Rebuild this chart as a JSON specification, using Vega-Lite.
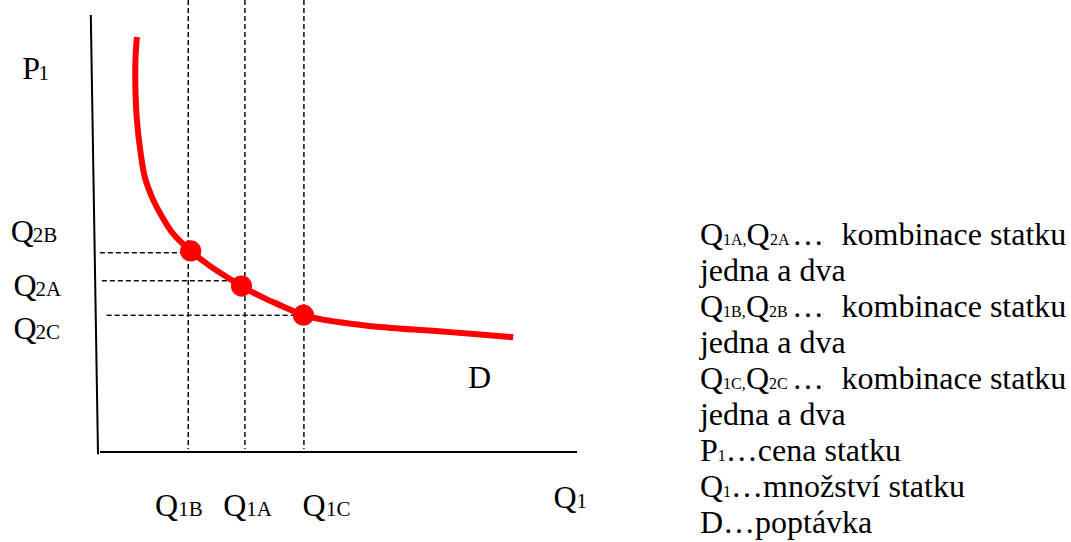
{
  "$schema": "https://vega.github.io/schema/vega-lite/v6.json",
  "width": 480,
  "height": 440,
  "autosize": {"type": "none"},
  "padding": {"left": 98, "top": 12, "right": 493, "bottom": 90},
  "background": "white",
  "config": {"view": {"stroke": null}},
  "datasets": {
    "axes": [
      {"q": -0.15, "p": 9.93, "q2": 0, "p2": -0.05},
      {"q": 0.04, "p": 0, "q2": 9.98, "p2": 0}
    ],
    "guides": [
      {"q": 1.88, "p": 10.27, "q2": 1.88, "p2": 0.07},
      {"q": 3.06, "p": 10.27, "q2": 3.06, "p2": 0.07},
      {"q": 4.29, "p": 10.27, "q2": 4.29, "p2": 0.07},
      {"q": 0.04, "p": 4.53, "q2": 1.92, "p2": 4.53},
      {"q": 0.08, "p": 3.89, "q2": 3.06, "p2": 3.89},
      {"q": 0.18, "p": 3.11, "q2": 4.29, "p2": 3.11}
    ],
    "curve": [
      {"i": 1, "q": 0.81, "p": 9.43},
      {"i": 2, "q": 0.78, "p": 8.91},
      {"i": 3, "q": 0.78, "p": 8.23},
      {"i": 4, "q": 0.81, "p": 7.55},
      {"i": 5, "q": 0.88, "p": 6.86},
      {"i": 6, "q": 0.98, "p": 6.23},
      {"i": 7, "q": 1.15, "p": 5.73},
      {"i": 8, "q": 1.35, "p": 5.32},
      {"i": 9, "q": 1.55, "p": 4.98},
      {"i": 10, "q": 1.93, "p": 4.57},
      {"i": 11, "q": 2.33, "p": 4.23},
      {"i": 12, "q": 2.65, "p": 4.0},
      {"i": 13, "q": 2.99, "p": 3.77},
      {"i": 14, "q": 3.42, "p": 3.52},
      {"i": 15, "q": 3.83, "p": 3.32},
      {"i": 16, "q": 4.28, "p": 3.11},
      {"i": 17, "q": 4.63, "p": 3.02},
      {"i": 18, "q": 5.04, "p": 2.95},
      {"i": 19, "q": 5.88, "p": 2.84},
      {"i": 20, "q": 7.27, "p": 2.73},
      {"i": 21, "q": 8.65, "p": 2.61}
    ],
    "points": [
      {"name": "B", "q": 1.93, "p": 4.57},
      {"name": "A", "q": 2.99, "p": 3.77},
      {"name": "C", "q": 4.28, "p": 3.11}
    ],
    "big": [
      {"t": "Q", "q": -1.82, "p": 4.77},
      {"t": "Q", "q": -1.76, "p": 3.55},
      {"t": "Q", "q": -1.76, "p": 2.57},
      {"t": "Q", "q": 1.19, "p": -1.45},
      {"t": "Q", "q": 2.61, "p": -1.45},
      {"t": "Q", "q": 4.26, "p": -1.45},
      {"t": "Q", "q": 9.49, "p": -1.28},
      {"t": "D", "q": 7.71, "p": 1.45},
      {"t": "P", "q": -1.58, "p": 8.48},
      {"t": "Q", "q": 12.54, "p": 4.70},
      {"t": "Q", "q": 13.51, "p": 4.70},
      {"t": "…", "q": 14.46, "p": 4.70},
      {"t": "kombinace statku", "q": 15.49, "p": 4.70},
      {"t": "jedna a dva", "q": 12.54, "p": 3.89},
      {"t": "Q", "q": 12.54, "p": 3.07},
      {"t": "Q", "q": 13.50, "p": 3.07},
      {"t": "…", "q": 14.46, "p": 3.07},
      {"t": "kombinace statku", "q": 15.49, "p": 3.07},
      {"t": "jedna a dva", "q": 12.54, "p": 2.25},
      {"t": "Q", "q": 12.54, "p": 1.43},
      {"t": "Q", "q": 13.50, "p": 1.43},
      {"t": "…", "q": 14.46, "p": 1.43},
      {"t": "kombinace statku", "q": 15.49, "p": 1.43},
      {"t": "jedna a dva", "q": 12.54, "p": 0.61},
      {"t": "P", "q": 12.54, "p": -0.20},
      {"t": "…cena statku", "q": 13.08, "p": -0.20},
      {"t": "Q", "q": 12.54, "p": -1.02},
      {"t": "…množství statku", "q": 13.19, "p": -1.02},
      {"t": "D…poptávka", "q": 12.54, "p": -1.84}
    ],
    "sub": [
      {"t": "2B", "q": -1.36, "p": 4.77},
      {"t": "2A", "q": -1.30, "p": 3.55},
      {"t": "2C", "q": -1.30, "p": 2.57},
      {"t": "1B", "q": 1.67, "p": -1.45},
      {"t": "1A", "q": 3.09, "p": -1.45},
      {"t": "1C", "q": 4.75, "p": -1.45},
      {"t": "1", "q": 9.97, "p": -1.28},
      {"t": "1", "q": -1.24, "p": 8.45}
    ],
    "legendsub": [
      {"t": "1A,", "q": 13.02, "p": 4.70},
      {"t": "2A", "q": 14.00, "p": 4.70},
      {"t": "1B,", "q": 13.02, "p": 3.07},
      {"t": "2B", "q": 13.98, "p": 3.07},
      {"t": "1C,", "q": 13.02, "p": 1.43},
      {"t": "2C", "q": 13.98, "p": 1.43},
      {"t": "1", "q": 12.91, "p": -0.20},
      {"t": "1", "q": 13.02, "p": -1.02}
    ]
  },
  "encoding": {
    "x": {"field": "q", "type": "quantitative", "scale": {"domain": [0, 10], "nice": false, "zero": false}, "axis": null},
    "y": {"field": "p", "type": "quantitative", "scale": {"domain": [0, 10], "nice": false, "zero": false}, "axis": null}
  },
  "layer": [
    {
      "data": {"name": "axes"},
      "mark": {"type": "rule", "color": "#000000", "strokeWidth": 2},
      "encoding": {"x2": {"field": "q2"}, "y2": {"field": "p2"}}
    },
    {
      "data": {"name": "guides"},
      "mark": {"type": "rule", "color": "#111111", "strokeWidth": 1.5, "strokeDash": [5, 3]},
      "encoding": {"x2": {"field": "q2"}, "y2": {"field": "p2"}}
    },
    {
      "data": {"name": "curve"},
      "mark": {"type": "line", "color": "#ff0000", "strokeWidth": 6, "interpolate": "catmull-rom"},
      "encoding": {"order": {"field": "i", "type": "quantitative"}}
    },
    {
      "data": {"name": "points"},
      "mark": {"type": "circle", "color": "#ff0000", "opacity": 1, "size": 450}
    },
    {
      "data": {"name": "big"},
      "mark": {"type": "text", "align": "left", "baseline": "alphabetic", "font": "Liberation Serif", "fontSize": 32, "color": "#000000"},
      "encoding": {"text": {"field": "t", "type": "nominal"}}
    },
    {
      "data": {"name": "sub"},
      "mark": {"type": "text", "align": "left", "baseline": "alphabetic", "font": "Liberation Serif", "fontSize": 21, "color": "#000000"},
      "encoding": {"text": {"field": "t", "type": "nominal"}}
    },
    {
      "data": {"name": "legendsub"},
      "mark": {"type": "text", "align": "left", "baseline": "alphabetic", "font": "Liberation Serif", "fontSize": 16, "color": "#000000"},
      "encoding": {"text": {"field": "t", "type": "nominal"}}
    }
  ]
}
